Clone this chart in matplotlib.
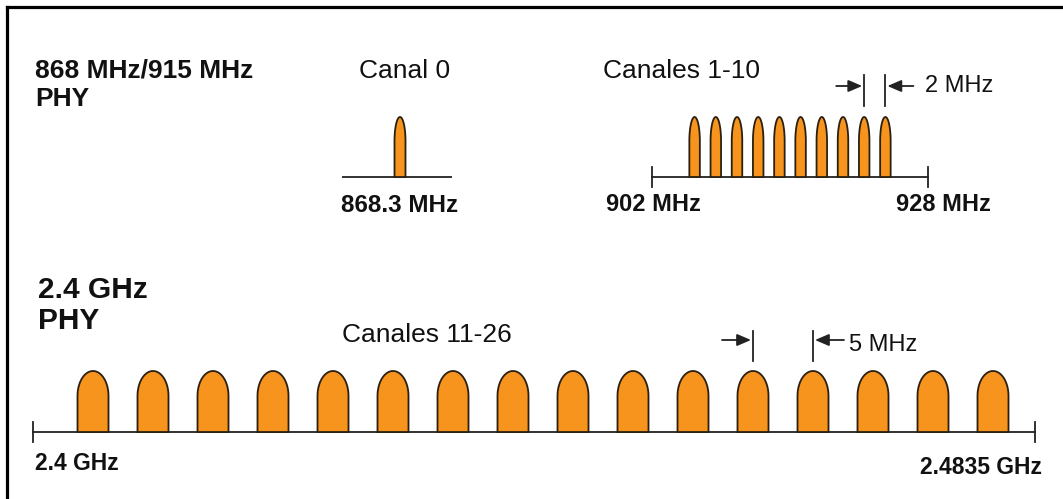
import numpy as np
import matplotlib.pyplot as plt
from matplotlib.lines import Line2D

plt.rcParams['font.family'] = ['Liberation Sans', 'DejaVu Sans']

# channel centre frequencies (MHz)
ch0_freq = [868.3]
band915_edges = [902.0, 928.0]
band915_freqs = [906, 908, 910, 912, 914, 916, 918, 920, 922, 924]
band24_edges = [2400.0, 2483.5]
band24_freqs = [2405, 2410, 2415, 2420, 2425, 2430, 2435, 2440,
                2445, 2450, 2455, 2460, 2465, 2470, 2475, 2480]
spacing_915 = (922, 924)      # channels marked by the "2 MHz" arrows
spacing_24 = (2460, 2465)     # channels marked by the "5 MHz" arrows

W, H = 1063, 499
ORANGE = '#F7941D'
EDGE = '#2b2010'
LINE = '#222222'

fig = plt.figure(figsize=(W / 100, H / 100), dpi=100)


def px_axes(px_left, px_right, base_y, f_ref, px_ref, ppu, top=115, bottom=15):
    # axes whose x unit is MHz (ppu pixels per MHz) and y unit is pixels above the baseline
    ax = fig.add_axes([px_left / W, (H - base_y - bottom) / H,
                       (px_right - px_left) / W, (top + bottom) / H])
    ax.set_xlim(f_ref + (px_left - px_ref) / ppu, f_ref + (px_right - px_ref) / ppu)
    ax.set_ylim(-bottom, top)
    ax.axis('off')
    return ax


def bump(ax, f, width, height, arc):
    t = np.linspace(0, np.pi, 60)
    xs = np.concatenate([[f + width / 2], f + width / 2 * np.cos(t), [f - width / 2]])
    ys = np.concatenate([[0], height - arc + arc * np.sin(t), [0]])
    ax.fill(xs, ys, facecolor=ORANGE, edgecolor=EDGE, lw=1.3, zorder=3)


def spacing_marks(ax, f1, f2, ppu, y0, y1, ya, tail):
    for f in (f1, f2):
        ax.plot([f, f], [y0, y1], color=LINE, lw=1.3)
    style = dict(arrowstyle='-|>,head_length=0.7,head_width=0.3', color=LINE,
                 lw=1.3, shrinkA=0, shrinkB=0, mutation_scale=12)
    ax.annotate('', xy=(f1 - 2 / ppu, ya), xytext=(f1 - tail / ppu, ya), arrowprops=style)
    ax.annotate('', xy=(f2 + 2 / ppu, ya), xytext=(f2 + tail / ppu, ya), arrowprops=style)


def base_line(ax, edges, tick):
    ax.plot(edges, [0, 0], color=LINE, lw=1.3, zorder=2)
    for e in edges:
        ax.plot([e, e], [-tick, tick], color=LINE, lw=1.3)


def label(x, y, s, size, bold=False, ha='left'):
    fig.text(x / W, 1 - y / H, s, fontsize=size, ha=ha, va='baseline',
             fontweight='bold' if bold else 'normal', color='#111111')


# channel 0
ax0 = px_axes(342, 452, 177, ch0_freq[0], 400, 10.6)
ax0.axhline(0, color=LINE, lw=1.3)
for f in ch0_freq:
    bump(ax0, f, 11 / 10.6, 60, 24)

# channels 1-10
ppu1 = 10.6
ax1 = px_axes(630, 950, 177, 915, 790, ppu1)
base_line(ax1, band915_edges, 10)
for f in band915_freqs:
    bump(ax1, f, 10.5 / ppu1, 60, 24)
spacing_marks(ax1, *spacing_915, ppu1, 71, 102, 91, 28)

# channels 11-26
ppu2 = 12.0
ax2 = px_axes(20, 1055, 432, 2400, 33, ppu2)
base_line(ax2, band24_edges, 10)
for f in band24_freqs:
    bump(ax2, f, 31 / ppu2, 61, 25)
spacing_marks(ax2, *spacing_24, ppu2, 71, 101, 92, 31)

# texts
label(35, 77, '868 MHz/915 MHz', 19, bold=True)
label(35, 106, 'PHY', 19, bold=True)
label(38, 298, '2.4 GHz', 21.5, bold=True)
label(38, 329, 'PHY', 21.5, bold=True)
label(359, 78, 'Canal 0', 19)
label(603, 78, 'Canales 1-10', 19)
label(342, 342, 'Canales 11-26', 19)
label(925, 92, '2 MHz', 17)
label(849, 351, '5 MHz', 17)
label(400, 212, '868.3 MHz', 17.4, bold=True, ha='center')
label(653, 211, '902 MHz', 17, bold=True, ha='center')
label(943, 211, '928 MHz', 17, bold=True, ha='center')
label(35, 470, '2.4 GHz', 16.5, bold=True)
label(1042, 474, '2.4835 GHz', 16.5, bold=True, ha='right')

# frame on the left and top edges
fig.add_artist(Line2D([6.5 / W, 6.5 / W], [0, 1 - 6.5 / H], color='black', lw=2.3))
fig.add_artist(Line2D([6.5 / W, 1], [1 - 6.5 / H, 1 - 6.5 / H], color='black', lw=2.3))

fig.savefig('out.png', dpi=100)
